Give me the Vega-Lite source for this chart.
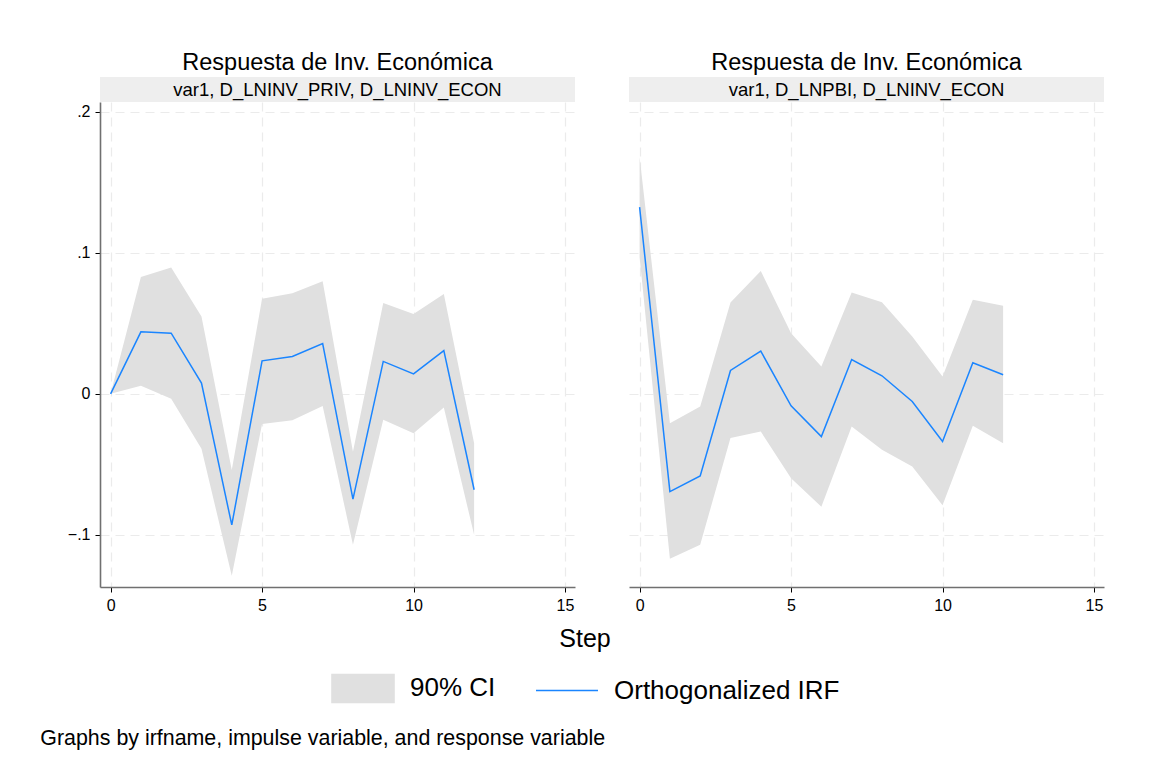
{
  "$schema": "https://vega.github.io/schema/vega-lite/v6.json",
  "background": "white",
  "padding": {"left": 40, "top": 50, "right": 5, "bottom": 5},
  "datasets": {
    "left": [
      {"step": 0, "irf": 0, "lo": 0, "hi": 0},
      {"step": 1, "irf": 0.044, "lo": 0.0057, "hi": 0.0828},
      {"step": 2, "irf": 0.043, "lo": -0.0035, "hi": 0.0896},
      {"step": 3, "irf": 0.0076, "lo": -0.039, "hi": 0.0548},
      {"step": 4, "irf": -0.093, "lo": -0.129, "hi": -0.054},
      {"step": 5, "irf": 0.0234, "lo": -0.0213, "hi": 0.0674},
      {"step": 6, "irf": 0.0265, "lo": -0.0187, "hi": 0.0714},
      {"step": 7, "irf": 0.0357, "lo": -0.0087, "hi": 0.0799},
      {"step": 8, "irf": -0.0747, "lo": -0.107, "hi": -0.041},
      {"step": 9, "irf": 0.023, "lo": -0.0184, "hi": 0.0645},
      {"step": 10, "irf": 0.0142, "lo": -0.028, "hi": 0.0567},
      {"step": 11, "irf": 0.0307, "lo": -0.0097, "hi": 0.0709},
      {"step": 12, "irf": -0.068, "lo": -0.1, "hi": -0.035}
    ],
    "right": [
      {"step": 0, "irf": 0.1324, "lo": 0.097, "hi": 0.168},
      {"step": 1, "irf": -0.0693, "lo": -0.117, "hi": -0.0208},
      {"step": 2, "irf": -0.0582, "lo": -0.107, "hi": -0.009},
      {"step": 3, "irf": 0.0166, "lo": -0.0314, "hi": 0.0648},
      {"step": 4, "irf": 0.0303, "lo": -0.0267, "hi": 0.0872},
      {"step": 5, "irf": -0.0085, "lo": -0.0598, "hi": 0.043},
      {"step": 6, "irf": -0.0303, "lo": -0.08, "hi": 0.0194},
      {"step": 7, "irf": 0.0243, "lo": -0.0232, "hi": 0.0719},
      {"step": 8, "irf": 0.0128, "lo": -0.0397, "hi": 0.065},
      {"step": 9, "irf": -0.0054, "lo": -0.0516, "hi": 0.0407},
      {"step": 10, "irf": -0.0338, "lo": -0.079, "hi": 0.0123},
      {"step": 11, "irf": 0.022, "lo": -0.0227, "hi": 0.0667},
      {"step": 12, "irf": 0.0135, "lo": -0.035, "hi": 0.0624}
    ],
    "stripLeft": [{"label": "var1, D_LNINV_PRIV, D_LNINV_ECON"}],
    "stripRight": [{"label": "var1, D_LNPBI, D_LNINV_ECON"}]
  },
  "title": {
    "text": "Graphs by irfname, impulse variable, and response variable",
    "orient": "bottom",
    "anchor": "start",
    "frame": "bounds",
    "fontSize": 21.4,
    "fontWeight": "normal",
    "color": "black",
    "offset": 22,
    "dx": -27
  },
  "hconcat": [
    {
      "spacing": 0,
      "bounds": "flush",
      "resolve": {"scale": {"color": "shared"}, "legend": {"color": "shared"}},
      "vconcat": [
        {
          "data": {"name": "stripLeft"},
          "width": 475,
          "height": 25,
          "view": {"fill": "#eeeeee", "stroke": null},
          "title": {"text": "Respuesta de Inv. Económica", "fontSize": 23.5, "fontWeight": "normal", "color": "black", "offset": 3},
          "mark": {"type": "text", "fontSize": 18.5, "color": "black"},
          "encoding": {"text": {"field": "label", "type": "nominal"}}
        },
        {
          "data": {"name": "left"},
          "width": 475,
          "height": 485,
          "layer": [
            {
              "mark": {"type": "area", "opacity": 1},
              "encoding": {
                "x": {"field": "step", "type": "quantitative", "scale": {"domain": [-0.35, 15.33], "nice": false, "zero": false}, "axis": {"values": [0, 5, 10, 15], "title": null}},
                "y": {"field": "lo", "type": "quantitative", "scale": {"domain": [-0.137, 0.207], "nice": false, "zero": false}, "axis": {"values": [-0.1, 0, 0.1, 0.2], "title": null, "labelExpr": "datum.value == 0 ? '0' : replace(format(datum.value, '.1f'), '0.', '.')"}},
                "y2": {"field": "hi"},
                "color": {
                  "datum": "90% CI",
                  "type": "nominal",
                  "scale": {"domain": ["90% CI", "Orthogonalized IRF"], "range": ["#e0e0e0", "#1a85ff"]},
                  "legend": {
                    "title": "Step",
                    "orient": "bottom",
                    "direction": "horizontal",
                    "labelLimit": 0,
                    "symbolSize": 3844,
                    "encode": {"symbols": {"update": {
                      "shape": {"signal": "datum.value === '90% CI' ? 'M-1,-0.45L1,-0.45L1,0.45L-1,0.45Z' : 'stroke'"},
                      "fill": {"signal": "datum.value === '90% CI' ? '#e0e0e0' : 'transparent'"},
                      "stroke": {"signal": "datum.value === '90% CI' ? 'transparent' : '#1a85ff'"},
                      "strokeWidth": {"value": 1.6},
                      "opacity": {"value": 1}
                    }}}
                  }
                }
              }
            },
            {
              "mark": {"type": "line", "strokeWidth": 1.5},
              "encoding": {
                "x": {"field": "step", "type": "quantitative"},
                "y": {"field": "irf", "type": "quantitative"},
                "color": {
                  "datum": "Orthogonalized IRF",
                  "type": "nominal",
                  "legend": {
                    "title": "Step",
                    "orient": "bottom",
                    "direction": "horizontal",
                    "labelLimit": 0,
                    "symbolSize": 3844,
                    "encode": {"symbols": {"update": {
                      "shape": {"signal": "datum.value === '90% CI' ? 'M-1,-0.45L1,-0.45L1,0.45L-1,0.45Z' : 'stroke'"},
                      "fill": {"signal": "datum.value === '90% CI' ? '#e0e0e0' : 'transparent'"},
                      "stroke": {"signal": "datum.value === '90% CI' ? 'transparent' : '#1a85ff'"},
                      "strokeWidth": {"value": 1.6},
                      "opacity": {"value": 1}
                    }}}
                  }
                }
              }
            }
          ]
        }
      ]
    },
    {
      "spacing": 0,
      "bounds": "flush",
      "resolve": {"scale": {"color": "shared"}, "legend": {"color": "shared"}},
      "vconcat": [
        {
          "data": {"name": "stripRight"},
          "width": 475,
          "height": 25,
          "view": {"fill": "#eeeeee", "stroke": null},
          "title": {"text": "Respuesta de Inv. Económica", "fontSize": 23.5, "fontWeight": "normal", "color": "black", "offset": 3},
          "mark": {"type": "text", "fontSize": 18.5, "color": "black"},
          "encoding": {"text": {"field": "label", "type": "nominal"}}
        },
        {
          "data": {"name": "right"},
          "width": 475,
          "height": 485,
          "layer": [
            {
              "mark": {"type": "area", "opacity": 1},
              "encoding": {
                "x": {"field": "step", "type": "quantitative", "scale": {"domain": [-0.35, 15.33], "nice": false, "zero": false}, "axis": {"values": [0, 5, 10, 15], "title": null}},
                "y": {"field": "lo", "type": "quantitative", "scale": {"domain": [-0.137, 0.207], "nice": false, "zero": false}, "axis": {"values": [-0.1, 0, 0.1, 0.2], "title": null, "labels": false, "ticks": false, "domain": false}},
                "y2": {"field": "hi"},
                "color": {
                  "datum": "90% CI",
                  "type": "nominal",
                  "legend": {
                    "title": "Step",
                    "orient": "bottom",
                    "direction": "horizontal",
                    "labelLimit": 0,
                    "symbolSize": 3844,
                    "encode": {"symbols": {"update": {
                      "shape": {"signal": "datum.value === '90% CI' ? 'M-1,-0.45L1,-0.45L1,0.45L-1,0.45Z' : 'stroke'"},
                      "fill": {"signal": "datum.value === '90% CI' ? '#e0e0e0' : 'transparent'"},
                      "stroke": {"signal": "datum.value === '90% CI' ? 'transparent' : '#1a85ff'"},
                      "strokeWidth": {"value": 1.6},
                      "opacity": {"value": 1}
                    }}}
                  }
                }
              }
            },
            {
              "mark": {"type": "line", "strokeWidth": 1.5},
              "encoding": {
                "x": {"field": "step", "type": "quantitative"},
                "y": {"field": "irf", "type": "quantitative"},
                "color": {
                  "datum": "Orthogonalized IRF",
                  "type": "nominal",
                  "legend": {
                    "title": "Step",
                    "orient": "bottom",
                    "direction": "horizontal",
                    "labelLimit": 0,
                    "symbolSize": 3844,
                    "encode": {"symbols": {"update": {
                      "shape": {"signal": "datum.value === '90% CI' ? 'M-1,-0.45L1,-0.45L1,0.45L-1,0.45Z' : 'stroke'"},
                      "fill": {"signal": "datum.value === '90% CI' ? '#e0e0e0' : 'transparent'"},
                      "stroke": {"signal": "datum.value === '90% CI' ? 'transparent' : '#1a85ff'"},
                      "strokeWidth": {"value": 1.6},
                      "opacity": {"value": 1}
                    }}}
                  }
                }
              }
            }
          ]
        }
      ]
    }
  ],
  "spacing": 54,
  "resolve": {"scale": {"color": "shared"}, "legend": {"color": "shared"}},
  "config": {
    "font": "Liberation Sans",
    "view": {"stroke": null},
    "axis": {
      "domainColor": "#707070",
      "domainWidth": 1.6,
      "tickColor": "#000000",
      "tickSize": 5,
      "tickWidth": 1,
      "labelFontSize": 16,
      "labelColor": "#000000",
      "labelPadding": 5,
      "grid": true,
      "gridColor": "#ebebeb",
      "gridDash": [9, 6],
      "gridWidth": 1.2
    },
    "legend": {
      "titleOrient": "top",
      "titleAnchor": "middle",
      "titleFontSize": 25,
      "titleFontWeight": "normal",
      "titleColor": "#000000",
      "titlePadding": 4,
      "labelFontSize": 26,
      "labelColor": "#000000",
      "labelOffset": 15,
      "columnPadding": 36,
      "offset": 14,
      "layout": {"bottom": {"anchor": "middle"}}
    }
  }
}
